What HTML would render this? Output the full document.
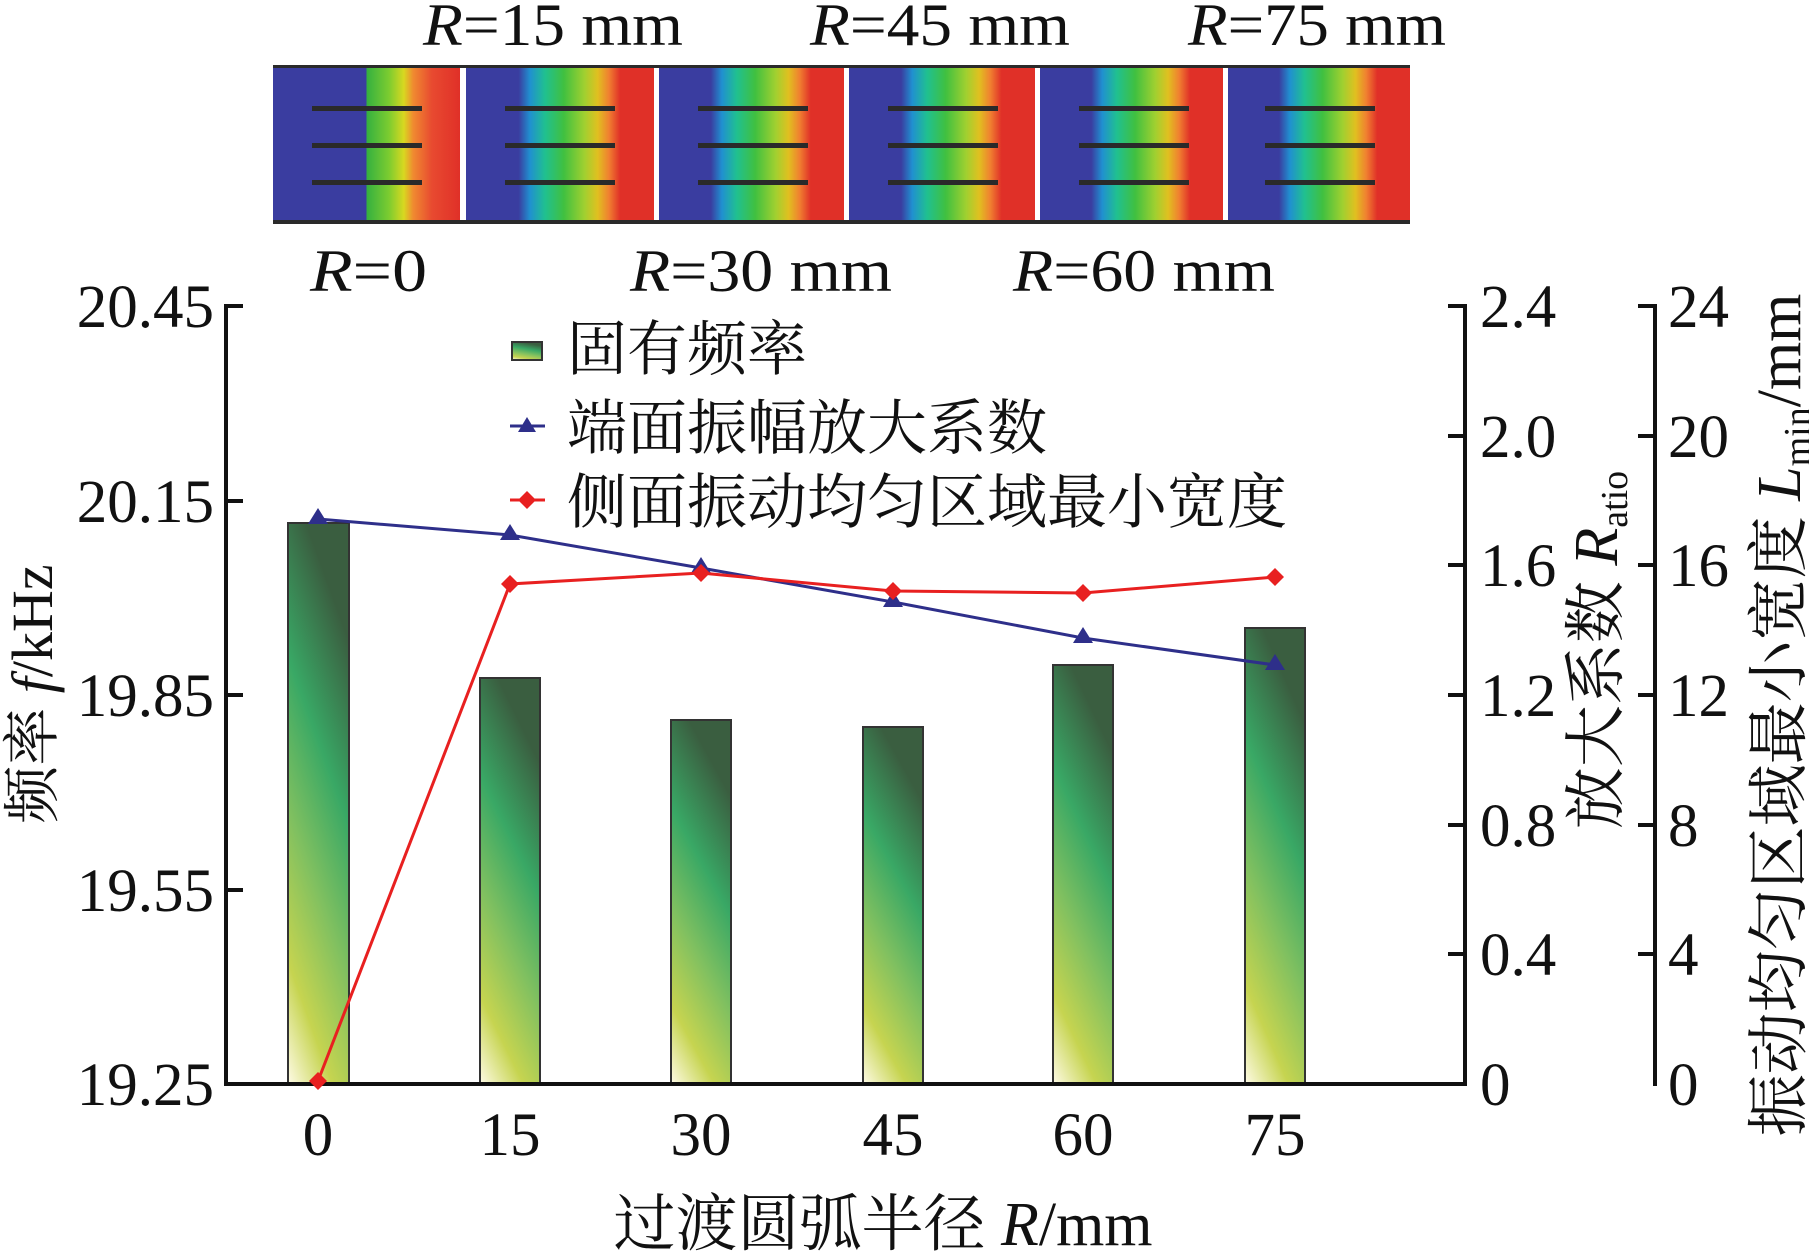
<!DOCTYPE html>
<html><head><meta charset="utf-8"><style>
html,body{margin:0;padding:0;background:#fff;}
svg{display:block;}
text{font-family:"Liberation Serif","Noto Serif CJK SC",serif;fill:#111;}
.cjk{font-family:"Liberation Serif","Noto Serif CJK SC","Noto Sans CJK SC",serif;}
</style></head><body>
<svg width="1809" height="1257" viewBox="0 0 1809 1257" xmlns="http://www.w3.org/2000/svg">
<defs>
<linearGradient id="bar" x1="0.3" y1="0" x2="0" y2="1">
<stop offset="0" stop-color="#3a5e40"/>
<stop offset="0.3" stop-color="#39a865"/>
<stop offset="0.55" stop-color="#80c060"/>
<stop offset="0.8" stop-color="#c6d450"/>
<stop offset="1" stop-color="#fffbe6"/>
</linearGradient>
<linearGradient id="hm0" x1="0" y1="0" x2="1" y2="0">
<stop offset="0" stop-color="#3a3da0"/><stop offset="0.5" stop-color="#3a3da0"/>
<stop offset="0.5" stop-color="#34b040"/><stop offset="0.62" stop-color="#7ccc30"/>
<stop offset="0.7" stop-color="#d8d820"/><stop offset="0.75" stop-color="#f08a30"/>
<stop offset="0.85" stop-color="#e84a30"/><stop offset="1" stop-color="#e03028"/>
</linearGradient>
<linearGradient id="hm" x1="0" y1="0" x2="1" y2="0">
<stop offset="0" stop-color="#3a3da0"/><stop offset="0.28" stop-color="#3a3da0"/>
<stop offset="0.34" stop-color="#2090d0"/><stop offset="0.42" stop-color="#20c090"/>
<stop offset="0.52" stop-color="#40c040"/><stop offset="0.63" stop-color="#a0d030"/>
<stop offset="0.7" stop-color="#e0c020"/><stop offset="0.76" stop-color="#f08030"/>
<stop offset="0.82" stop-color="#e03028"/><stop offset="1" stop-color="#e03028"/>
</linearGradient>
</defs>

<g>
<rect x="273" y="65" width="187" height="159" fill="url(#hm0)"/>
<rect x="466" y="65" width="188" height="159" fill="url(#hm)"/>
<rect x="659" y="65" width="185" height="159" fill="url(#hm)"/>
<rect x="849" y="65" width="186" height="159" fill="url(#hm)"/>
<rect x="1040" y="65" width="183" height="159" fill="url(#hm)"/>
<rect x="1228" y="65" width="182" height="159" fill="url(#hm)"/>
<g fill="#2a2a2a">
<rect x="312" y="106" width="110" height="5"/><rect x="312" y="143" width="110" height="5"/><rect x="312" y="180" width="110" height="5"/>
<rect x="505" y="106" width="110" height="5"/><rect x="505" y="143" width="110" height="5"/><rect x="505" y="180" width="110" height="5"/>
<rect x="698" y="106" width="110" height="5"/><rect x="698" y="143" width="110" height="5"/><rect x="698" y="180" width="110" height="5"/>
<rect x="888" y="106" width="110" height="5"/><rect x="888" y="143" width="110" height="5"/><rect x="888" y="180" width="110" height="5"/>
<rect x="1079" y="106" width="110" height="5"/><rect x="1079" y="143" width="110" height="5"/><rect x="1079" y="180" width="110" height="5"/>
<rect x="1265" y="106" width="110" height="5"/><rect x="1265" y="143" width="110" height="5"/><rect x="1265" y="180" width="110" height="5"/>
<rect x="273" y="65" width="1137" height="3"/><rect x="273" y="220" width="1137" height="4"/>
</g>
</g>
<g font-size="60">
<text x="423" y="45" textLength="260" lengthAdjust="spacingAndGlyphs"><tspan font-style="italic">R</tspan>=15 mm</text>
<text x="810" y="45" textLength="260" lengthAdjust="spacingAndGlyphs"><tspan font-style="italic">R</tspan>=45 mm</text>
<text x="1188" y="45" textLength="258" lengthAdjust="spacingAndGlyphs"><tspan font-style="italic">R</tspan>=75 mm</text>
<text x="310" y="291" textLength="117" lengthAdjust="spacingAndGlyphs"><tspan font-style="italic">R</tspan>=0</text>
<text x="630" y="291" textLength="262" lengthAdjust="spacingAndGlyphs"><tspan font-style="italic">R</tspan>=30 mm</text>
<text x="1013" y="291" textLength="262" lengthAdjust="spacingAndGlyphs"><tspan font-style="italic">R</tspan>=60 mm</text>
</g>

<g fill="url(#bar)" stroke="#333" stroke-width="2">
<rect x="288" y="523" width="61" height="561"/>
<rect x="480" y="678" width="60" height="406"/>
<rect x="671" y="720" width="60" height="364"/>
<rect x="863" y="727" width="60" height="357"/>
<rect x="1053" y="665" width="60" height="419"/>
<rect x="1245" y="628" width="60" height="456"/>
</g>

<g stroke="#111" stroke-width="4" fill="none">
<line x1="226" y1="304" x2="226" y2="1086"/>
<line x1="224" y1="1084" x2="1467" y2="1084"/>
<line x1="1465" y1="304" x2="1465" y2="1086"/>
<line x1="1655" y1="304" x2="1655" y2="1086"/>
<path d="M226 306h17M226 501h17M226 695h17M226 890h17"/>
<path d="M1465 306h-17M1465 436h-17M1465 565h-17M1465 695h-17M1465 825h-17M1465 954h-17"/>
<path d="M1655 306h-17M1655 436h-17M1655 565h-17M1655 695h-17M1655 825h-17M1655 954h-17"/>
</g>
<g font-size="61" text-anchor="end">
<text x="214" y="327">20.45</text><text x="214" y="522">20.15</text><text x="214" y="716">19.85</text><text x="214" y="911">19.55</text><text x="214" y="1105">19.25</text>
</g>
<g font-size="61">
<text x="1480" y="327">2.4</text><text x="1480" y="457">2.0</text><text x="1480" y="586">1.6</text><text x="1480" y="716">1.2</text><text x="1480" y="846">0.8</text><text x="1480" y="975">0.4</text><text x="1480" y="1105">0</text>
<text x="1668" y="327">24</text><text x="1668" y="457">20</text><text x="1668" y="586">16</text><text x="1668" y="716">12</text><text x="1668" y="846">8</text><text x="1668" y="975">4</text><text x="1668" y="1105">0</text>
</g>
<g font-size="61" text-anchor="middle">
<text x="318" y="1155">0</text><text x="510" y="1155">15</text><text x="701" y="1155">30</text><text x="893" y="1155">45</text><text x="1083" y="1155">60</text><text x="1275" y="1155">75</text>
</g>
<text x="883" y="1245" font-size="62" text-anchor="middle" class="cjk">过渡圆弧半径 <tspan font-style="italic">R</tspan>/mm</text>
<text transform="translate(52,694) rotate(-90)" font-size="58" text-anchor="middle" class="cjk">频率 <tspan font-style="italic">f</tspan>/kHz</text>
<text transform="translate(1617,650) rotate(-90)" font-size="62" text-anchor="middle" class="cjk">放大系数 <tspan font-style="italic">R</tspan><tspan font-size="38" dy="10">atio</tspan></text>
<text transform="translate(1800,715) rotate(-90)" font-size="62" text-anchor="middle" class="cjk">振动均匀区域最小宽度 <tspan font-style="italic">L</tspan><tspan font-size="38" dy="10">min</tspan><tspan dy="-10">/mm</tspan></text>

<polyline points="318,519 510,535 701,568 893,602 1083,638 1275,665" fill="none" stroke="#2e2f8a" stroke-width="3"/>
<g fill="#2e2f8a">
<path d="M318,508 l10,16 h-20z"/><path d="M510,524 l10,16 h-20z"/><path d="M701,557 l10,16 h-20z"/><path d="M893,591 l10,16 h-20z"/><path d="M1083,627 l10,16 h-20z"/><path d="M1275,654 l10,16 h-20z"/>
</g>
<polyline points="318,1081 510,584 701,573 893,591 1083,593 1275,577" fill="none" stroke="#e82020" stroke-width="3"/>
<g fill="#e82020">
<path d="M318,1072l9,9-9,9-9-9z"/><path d="M510,575l9,9-9,9-9-9z"/><path d="M701,564l9,9-9,9-9-9z"/><path d="M893,582l9,9-9,9-9-9z"/><path d="M1083,584l9,9-9,9-9-9z"/><path d="M1275,568l9,9-9,9-9-9z"/>
</g>

<rect x="512" y="342" width="30" height="18" fill="url(#bar)" stroke="#333" stroke-width="2"/>
<line x1="510" y1="426" x2="545" y2="426" stroke="#2e2f8a" stroke-width="3"/>
<path d="M527,417 l9,15 h-18z" fill="#2e2f8a"/>
<line x1="510" y1="500" x2="545" y2="500" stroke="#e82020" stroke-width="3"/>
<path d="M527,491l9,9-9,9-9-9z" fill="#e82020"/>
<g font-size="60" class="cjk">
<text x="567" y="370">固有频率</text>
<text x="567" y="449">端面振幅放大系数</text>
<text x="567" y="523">侧面振动均匀区域最小宽度</text>
</g>
</svg>
</body></html>
